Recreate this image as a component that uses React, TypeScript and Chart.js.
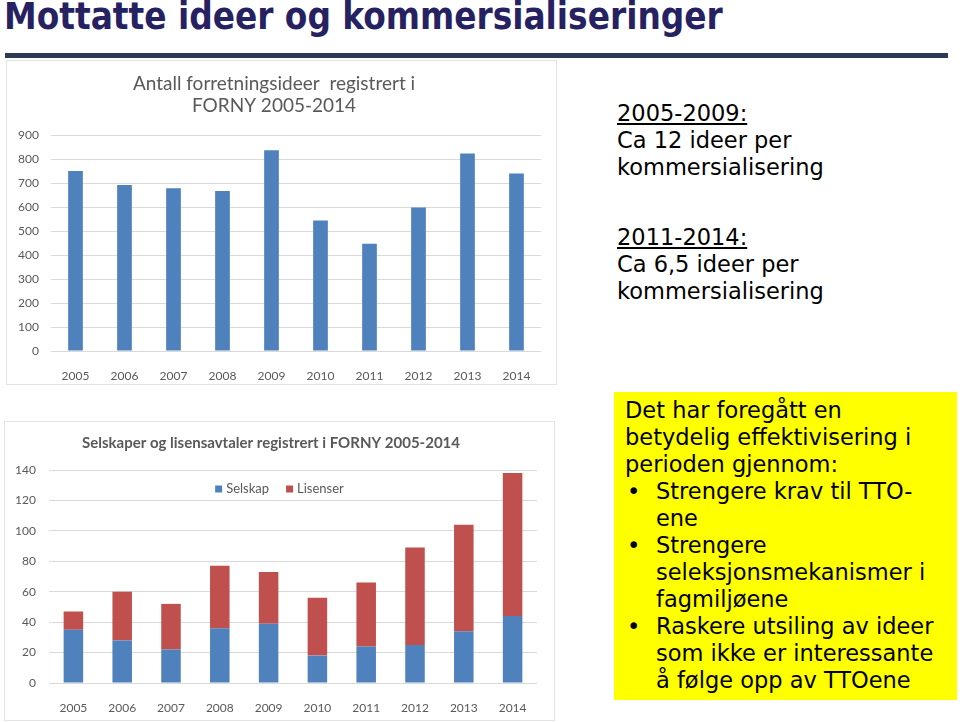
import React, { useEffect, useRef } from "react";
import { Chart, registerables } from "chart.js";

Chart.register(...registerables);

const years = ["2005", "2006", "2007", "2008", "2009", "2010", "2011", "2012", "2013", "2014"];
const ideer = [752, 694, 680, 669, 839, 545, 448, 600, 825, 742];
const selskap = [35, 28, 22, 36, 39, 18, 24, 25, 34, 44];
const lisenser = [12, 32, 30, 41, 34, 38, 42, 64, 70, 94];
const topTitle = ["Antall forretningsideer  registrert i", "FORNY 2005-2014"];
const bottomTitle = "Selskaper og lisensavtaler registrert i FORNY 2005-2014";
const seriesNames = ["Selskap", "Lisenser"];

const BLUE = "#4f81bd";
const RED = "#c0504d";
const GRID = "#d9d9d9";
const TXT = "#595959";
const FONT = "Lato, 'Open Sans', sans-serif";

const innerLegend = {
  id: "innerLegend",
  afterDraw(chart: any) {
    const ctx = chart.ctx;
    const ds = chart.data.datasets;
    ctx.save();
    ctx.font = `13px ${FONT}`;
    const box = 7, gap = 4, itemGap = 17;
    const widths = ds.map((d: any) => box + gap + ctx.measureText(d.label).width);
    const total = widths.reduce((a: number, b: number) => a + b, 0) + itemGap * (ds.length - 1);
    let x = chart.width / 2 - total / 2;
    const y = chart.chartArea.top + 19;
    ds.forEach((d: any, i: number) => {
      ctx.fillStyle = d.backgroundColor;
      ctx.fillRect(x, y - box / 2, box, box);
      ctx.fillStyle = TXT;
      ctx.textBaseline = "middle";
      ctx.textAlign = "left";
      ctx.fillText(d.label, x + box + gap, y);
      x += widths[i] + itemGap;
    });
    ctx.restore();
  },
};

function TopChart() {
  const ref = useRef<HTMLCanvasElement>(null);
  useEffect(() => {
    const chart = new Chart(ref.current!, {
      type: "bar",
      data: {
        labels: years,
        datasets: [{ label: "Ideer", data: ideer, backgroundColor: BLUE, barPercentage: 0.3, categoryPercentage: 1 }],
      },
      options: {
        responsive: false,
        animation: false,
        layout: { padding: { left: 0, right: 15, top: 0, bottom: 0 } },
        plugins: {
          legend: { display: false },
          tooltip: { enabled: false },
          title: {
            display: true,
            text: topTitle,
            color: TXT,
            font: { family: FONT, size: 19, weight: "normal", lineHeight: 1.2 },
            padding: { top: 11, bottom: 18 },
          },
        },
        scales: {
          x: {
            grid: { display: false },
            border: { display: false },
            ticks: { color: TXT, font: { family: FONT, size: 12 }, padding: 10 },
            afterFit: (s: any) => { s.height = 33; },
          },
          y: {
            min: 0,
            max: 900,
            ticks: { stepSize: 100, color: TXT, font: { family: FONT, size: 12 }, padding: 12 },
            grid: { color: GRID, drawTicks: false },
            border: { display: false },
            afterFit: (s: any) => { s.width = 44; },
          },
        },
      },
    });
    return () => chart.destroy();
  }, []);
  return <canvas ref={ref} width={549} height={323} />;
}

function BottomChart() {
  const ref = useRef<HTMLCanvasElement>(null);
  useEffect(() => {
    const chart = new Chart(ref.current!, {
      type: "bar",
      data: {
        labels: years,
        datasets: [
          { label: seriesNames[0], data: selskap, backgroundColor: BLUE, barPercentage: 0.4, categoryPercentage: 1 },
          { label: seriesNames[1], data: lisenser, backgroundColor: RED, barPercentage: 0.4, categoryPercentage: 1 },
        ],
      },
      options: {
        responsive: false,
        animation: false,
        layout: { padding: { left: 0, right: 17, top: 0, bottom: 0 } },
        plugins: {
          legend: { display: false },
          tooltip: { enabled: false },
          title: {
            display: true,
            text: bottomTitle,
            color: TXT,
            font: { family: FONT, size: 15, weight: "bold", lineHeight: 1.2 },
            padding: { top: 12, bottom: 18 },
          },
        },
        scales: {
          x: {
            stacked: true,
            grid: { display: false },
            border: { display: false },
            ticks: { color: TXT, font: { family: FONT, size: 12 }, padding: 10 },
            afterFit: (s: any) => { s.height = 37; },
          },
          y: {
            stacked: true,
            min: 0,
            max: 140,
            ticks: { stepSize: 20, color: TXT, font: { family: FONT, size: 12 }, padding: 13 },
            grid: { color: GRID, drawTicks: false },
            border: { display: false },
            afterFit: (s: any) => { s.width = 44; },
          },
        },
      },
      plugins: [innerLegend],
    });
    return () => chart.destroy();
  }, []);
  return <canvas ref={ref} width={549} height={298} />;
}

const textStyle: React.CSSProperties = {
  position: "absolute",
  fontFamily: "'DejaVu Sans', Verdana, sans-serif",
  fontSize: 22.5,
  lineHeight: "27px",
  color: "#000",
  whiteSpace: "nowrap",
};

function Bullet({ lines }: { lines: string[] }) {
  return (
    <div style={{ position: "relative", paddingLeft: 42 }}>
      <span style={{ position: "absolute", left: 13, top: 0 }}>•</span>
      {lines.map((l, i) => (
        <div key={i}>{l}</div>
      ))}
    </div>
  );
}

export default function App() {
  return (
    <div style={{ position: "fixed", left: 0, top: 0, width: 960, height: 722, background: "#fff", overflow: "hidden" }}>
      <div
        style={{
          position: "absolute",
          left: 4,
          top: -5,
          fontFamily: "'DejaVu Sans Condensed', 'DejaVu Sans', sans-serif",
          fontWeight: "bold",
          fontSize: 36.5,
          lineHeight: "44px",
          color: "#262262",
          whiteSpace: "nowrap",
        }}
      >
        Mottatte ideer og kommersialiseringer
      </div>
      <div style={{ position: "absolute", left: 5, top: 53, width: 943, height: 5, background: "#2d3a56" }} />

      <div style={{ position: "absolute", left: 6, top: 60, width: 549, height: 323, border: "1px solid #e3e3e3" }}>
        <TopChart />
      </div>
      <div style={{ position: "absolute", left: 4, top: 421, width: 549, height: 298, border: "1px solid #e3e3e3" }}>
        <BottomChart />
      </div>

      <div style={{ ...textStyle, left: 617, top: 100 }}>
        <div style={{ textDecoration: "underline" }}>2005-2009:</div>
        <div>Ca 12 ideer per</div>
        <div>kommersialisering</div>
      </div>
      <div style={{ ...textStyle, left: 617, top: 224 }}>
        <div style={{ textDecoration: "underline" }}>2011-2014:</div>
        <div>Ca 6,5 ideer per</div>
        <div>kommersialisering</div>
      </div>

      <div
        style={{
          ...textStyle,
          left: 614,
          top: 392,
          width: 343,
          height: 308,
          background: "#ffff00",
          boxSizing: "border-box",
          paddingTop: 5,
        }}
      >
        <div style={{ paddingLeft: 11 }}>
          <div>Det har foregått en</div>
          <div>betydelig effektivisering i</div>
          <div>perioden gjennom:</div>
        </div>
        <Bullet lines={["Strengere krav til TTO-", "ene"]} />
        <Bullet lines={["Strengere", "seleksjonsmekanismer i", "fagmiljøene"]} />
        <Bullet lines={["Raskere utsiling av ideer", "som ikke er interessante", "å følge opp av TTOene"]} />
      </div>
    </div>
  );
}
